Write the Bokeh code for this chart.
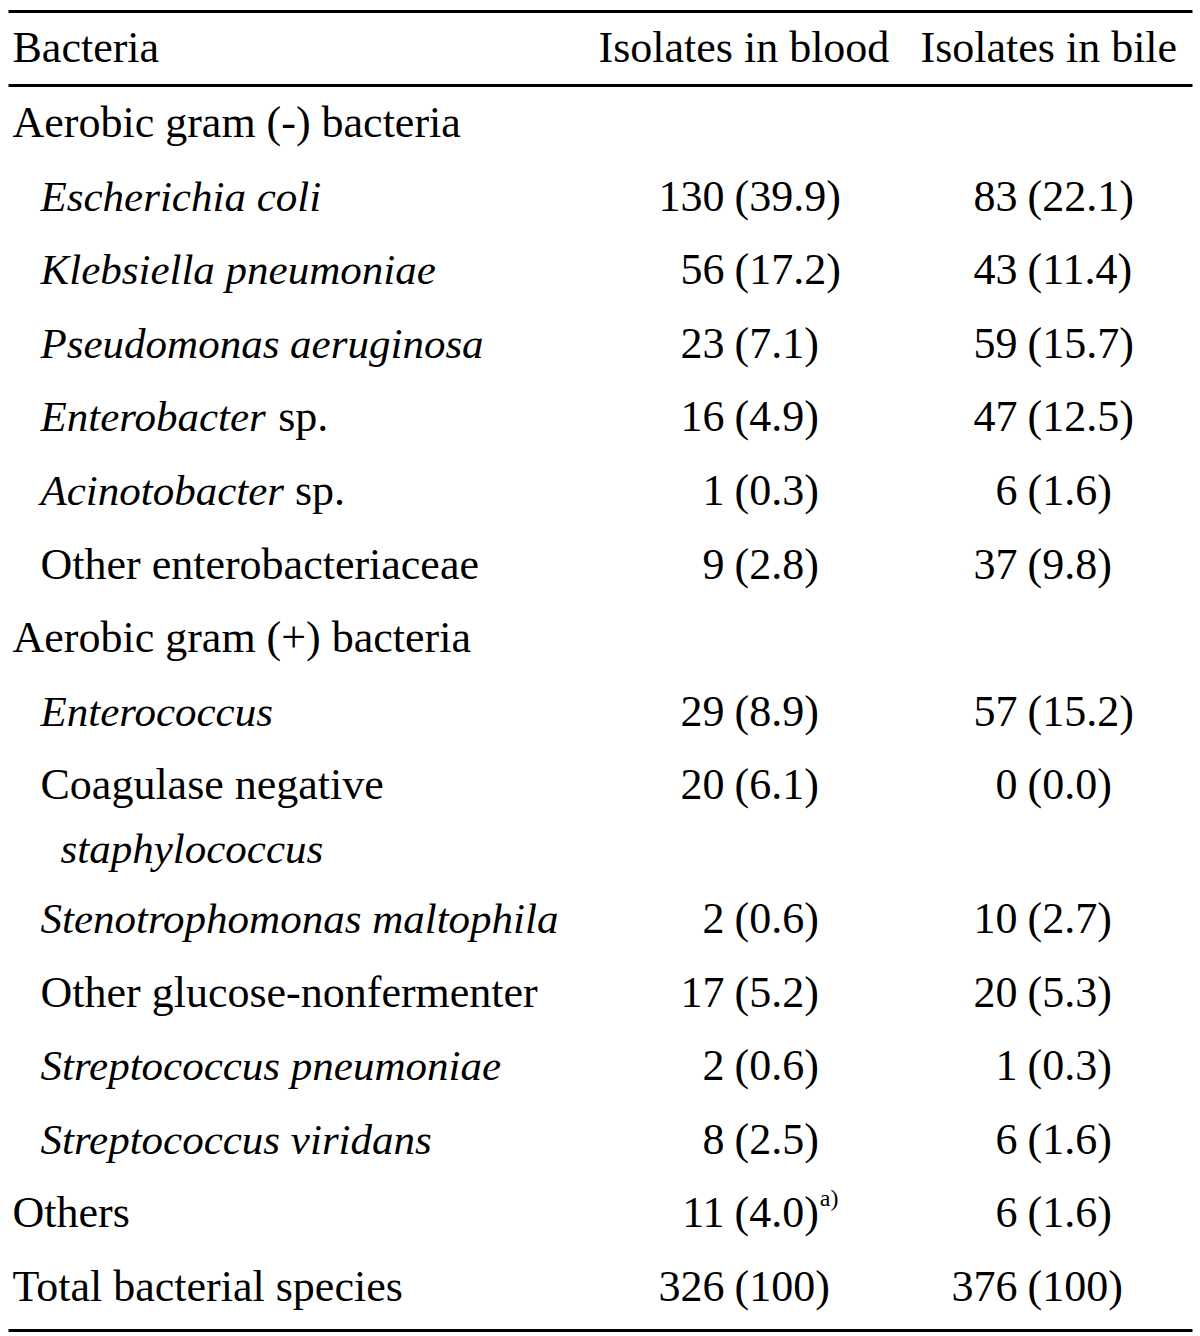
from bokeh.plotting import figure
from bokeh.models import Range1d, ColumnDataSource
from bokeh.embed import file_html
from bokeh.resources import INLINE
from bokeh.core.properties import value

# ---------------- data ----------------
header = ["Bacteria", "Isolates in blood", "Isolates in bile"]

row_labels = [
    "Aerobic gram (-) bacteria",
    "Escherichia coli",
    "Klebsiella pneumoniae",
    "Pseudomonas aeruginosa",
    "Enterobacter",
    "Acinotobacter",
    "Other enterobacteriaceae",
    "Aerobic gram (+) bacteria",
    "Enterococcus",
    "Coagulase negative",
    "Stenotrophomonas maltophila",
    "Other glucose-nonfermenter",
    "Streptococcus pneumoniae",
    "Streptococcus viridans",
    "Others",
    "Total bacterial species",
]
row_suffix = ["", "", "", "", "sp.", "sp.", "", "", "", "", "", "", "", "", "", ""]
row_italic = [False, True, True, True, True, True, False, False, True, False,
              True, False, True, True, False, False]
row_group = [True, False, False, False, False, False, False, True, False, False,
             False, False, False, False, True, True]
# second line of the "Coagulase negative" row
cont_label = "staphylococcus"
cont_row = 9

value_rows = [1, 2, 3, 4, 5, 6, 8, 9, 10, 11, 12, 13, 14, 15]
blood_n = [130, 56, 23, 16, 1, 9, 29, 20, 2, 17, 2, 8, 11, 326]
blood_pct = ["39.9", "17.2", "7.1", "4.9", "0.3", "2.8", "8.9", "6.1", "0.6", "5.2", "0.6", "2.5", "4.0", "100"]
bile_n = [83, 43, 59, 47, 6, 37, 57, 0, 10, 20, 1, 6, 6, 376]
bile_pct = ["22.1", "11.4", "15.7", "12.5", "1.6", "9.8", "15.2", "0.0", "2.7", "5.3", "0.3", "1.6", "1.6", "100"]
footnote_row = 14
footnote_mark = "a)"

# ---------------- layout ----------------
FONT = "Liberation Serif"
FS = 44       # roman
FSI = 43      # italic
W, H = 1200, 1336
DY = -18      # baseline correction
GAP = 10      # gap between count and (percent)
COL_X = (724, 1017)

def row_y(i):
    return 140 + DY + 73.6 * i + (60 if i > cont_row else 0)

# Times / Liberation Serif advance widths (per 1000 em)
ITALIC_W = {"A": 611, "E": 611, "a": 500, "b": 500, "c": 444, "e": 444, "i": 278,
            "n": 500, "o": 500, "r": 389, "t": 278, " ": 250}
ROMAN_W = {"(": 333, ")": 333, ".": 250, " ": 250}
for d in "0123456789":
    ROMAN_W[d] = 500

def width(s, table, size):
    return sum(table.get(c, 500) for c in s) * size / 1000.0

p = figure(width=W, height=H, x_range=Range1d(0, W), y_range=Range1d(H, 0),
           output_backend="svg", toolbar_location=None, min_border=0,
           background_fill_color="white", border_fill_color="white")
p.axis.visible = False
p.grid.visible = False
p.outline_line_color = None

# rules
p.segment(x0=[8, 8, 8], y0=[11, 85, 1330], x1=[1192, 1192, 1192], y1=[11, 85, 1330],
          line_color="black", line_width=3)

def txt(xs, ys, texts, align="left", style="normal", size=FS):
    src = ColumnDataSource(dict(x=xs, y=ys, t=texts))
    p.text(x="x", y="y", text="t", source=src, text_font=value(FONT),
           text_font_size=value(f"{size}px"), text_font_style=value(style),
           text_align=value(align), text_baseline=value("alphabetic"), text_color="black")

# header
txt([12, 598, 920], [65 + DY] * 3, header)

# row labels
rx = [12 if g else 40 for g in row_group]
ry = [row_y(i) for i in range(len(row_labels))]
ital = [i for i in range(len(row_labels)) if row_italic[i]]
rom = [i for i in range(len(row_labels)) if not row_italic[i]]
txt([rx[i] for i in ital], [ry[i] for i in ital], [row_labels[i] for i in ital],
    style="italic", size=FSI)
txt([rx[i] for i in rom], [ry[i] for i in rom], [row_labels[i] for i in rom])
suf = [i for i in range(len(row_labels)) if row_suffix[i]]
txt([rx[i] + width(row_labels[i] + " ", ITALIC_W, FSI) for i in suf], [ry[i] for i in suf],
    [row_suffix[i] for i in suf])
txt([60], [row_y(cont_row) + 64], [cont_label], style="italic", size=FSI)

# values
vy = [row_y(i) for i in value_rows]
for n, pct, xr in ((blood_n, blood_pct, COL_X[0]), (bile_n, bile_pct, COL_X[1])):
    txt([xr] * len(n), vy, [str(v) for v in n], align="right")
    txt([xr + GAP] * len(n), vy, [f"({v})" for v in pct])

k = value_rows.index(footnote_row)
txt([COL_X[0] + GAP + width(f"({blood_pct[k]})", ROMAN_W, FS) + 1], [row_y(footnote_row) - 15],
    [footnote_mark], size=24)

open("out.html", "w").write(file_html(p, INLINE))
